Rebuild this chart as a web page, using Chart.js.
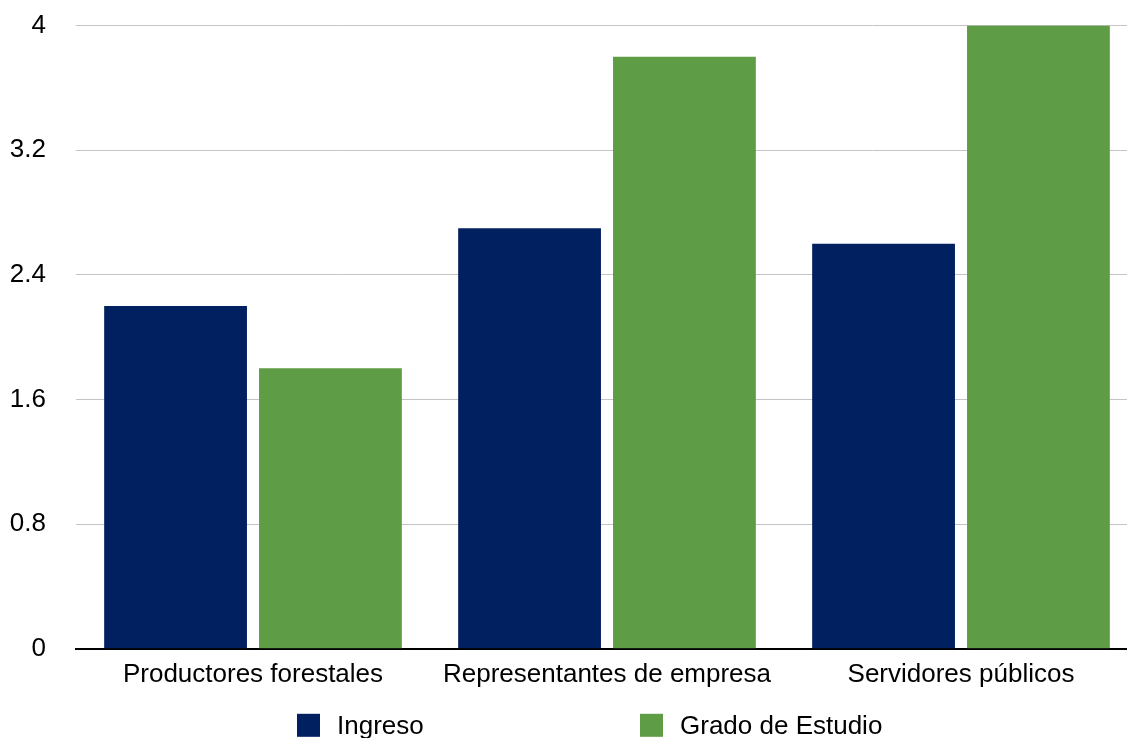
<!DOCTYPE html>
<html>
<head>
  <meta charset="utf-8">
  <title>Ingreso y Grado de Estudio</title>
  <script src="https://cdn.jsdelivr.net/npm/chart.js"></script>
  <style>
    html, body { margin: 0; padding: 0; overflow: hidden; background: #fff; }
    #grafico { display: block; margin-top: -20px; }
  </style>
</head>
<body>
  <canvas id="grafico" width="1138" height="780"></canvas>

  <script>
    const categorias = ['Productores forestales', 'Representantes de empresa', 'Servidores públicos'];
    const ingreso = [2.2, 2.7, 2.6];
    const gradoEstudio = [1.8, 3.8, 4.0];
    const marcasY = [0, 0.8, 1.6, 2.4, 3.2, 4];

    const fuente = { family: 'Liberation Sans, Arial, sans-serif', size: 26 };

    // leyenda inferior con separación amplia entre elementos
    const leyendaAbajo = {
      id: 'leyendaAbajo',
      afterDraw(chart) {
        const { ctx, chartArea } = chart;
        const centro = (chartArea.left + chartArea.right) / 2;
        const inicios = [centro - 310, centro + 33];
        const lado = 23;
        const yCaja = chartArea.bottom + 65;
        ctx.save();
        ctx.font = `${fuente.size}px ${fuente.family}`;
        ctx.textBaseline = 'middle';
        ctx.textAlign = 'left';
        chart.data.datasets.forEach((ds, i) => {
          const x = inicios[i];
          ctx.fillStyle = ds.backgroundColor;
          ctx.fillRect(x, yCaja, lado, lado);
          ctx.fillStyle = '#000';
          ctx.fillText(ds.label, x + lado + 17, yCaja + lado / 2 + 2);
        });
        ctx.restore();
      }
    };

    const ctx = document.getElementById('grafico').getContext('2d');
    new Chart(ctx, {
      type: 'bar',
      data: {
        labels: categorias,
        datasets: [
          { label: 'Ingreso', data: ingreso, backgroundColor: '#002060' },
          { label: 'Grado de Estudio', data: gradoEstudio, backgroundColor: '#5e9c45' }
        ]
      },
      options: {
        responsive: false,
        animation: false,
        categoryPercentage: 0.875,
        barPercentage: 0.922,
        layout: { padding: { top: 0, right: 0, bottom: 60, left: 0 } },
        plugins: {
          tooltip: { enabled: false },
          legend: { display: false }
        },
        scales: {
          x: {
            grid: { display: false, drawTicks: false },
            border: { color: '#000', width: 2 },
            ticks: { color: '#000', font: fuente, padding: 10 }
          },
          y: {
            min: 0,
            max: 4,
            afterFit: s => { s.width = 76; },
            afterBuildTicks: s => { s.ticks = marcasY.map(v => ({ value: v })); },
            grid: { color: '#c4c4c4', lineWidth: 1, drawTicks: false },
            border: { display: false },
            ticks: {
              color: '#000',
              font: fuente,
              padding: 30,
              callback: v => String(+v.toFixed(1))
            }
          }
        }
      },
      plugins: [leyendaAbajo]
    });
  </script>
</body>
</html>
